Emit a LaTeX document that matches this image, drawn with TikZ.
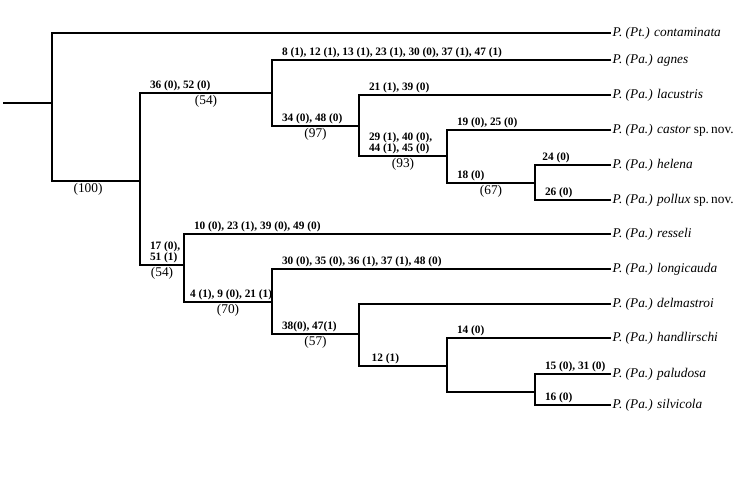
\documentclass[tikz,border=0pt]{standalone}
\usepackage{fontspec}
\setmainfont{Liberation Serif}
\usepackage{tikz}
\usetikzlibrary{positioning,calc}
\tikzset{
  branch/.style={line width=1pt},
  taxon/.style={anchor=west,inner sep=1pt,font=\fontsize{10}{12}\selectfont\itshape},
  chr/.style={anchor=south west,inner xsep=0pt,inner ysep=1pt,xshift=7,font=\fontsize{8.5}{8.5}\selectfont\bfseries,align=left},
  supp/.style={pos=0.75,below,inner sep=1.5pt,font=\fontsize{10}{12}\selectfont}
}

\begin{document}
\begin{tikzpicture}[x=0.75pt,y=-0.75pt]
  \useasboundingbox (0,0) rectangle (756,489);
  % internal nodes
  \coordinate (root) at (3,103);
  \coordinate (n1) at (52,103);
  \coordinate (n2) at (140,181);
  \coordinate (n3) at (272,93);
  \coordinate (n4) at (359,126);
  \coordinate (n5) at (447,156);
  \coordinate (n6) at (535,183);
  \coordinate (n7) at (184,265);
  \coordinate (n8) at (272,302);
  \coordinate (n9) at (359,334);
  \coordinate (n10) at (447,366);
  \coordinate (n11) at (535,392);
  % taxa
  \node[taxon] (contam) at (611,33) {P. (Pt.) contaminata};
  \node[taxon] (agnes) at (611,60) {P. (Pa.) agnes};
  \node[taxon] (lacus) at (611,95) {P. (Pa.) lacustris};
  \node[taxon] (castor) at (611,130) {P. (Pa.) castor \upshape sp.\,nov.};
  \node[taxon] (helena) at (611,165) {P. (Pa.) helena};
  \node[taxon] (pollux) at (611,200) {P. (Pa.) pollux \upshape sp.\,nov.};
  \node[taxon] (ressel) at (611,234) {P. (Pa.) resseli};
  \node[taxon] (longi) at (611,269) {P. (Pa.) longicauda};
  \node[taxon] (delma) at (611,304) {P. (Pa.) delmastroi};
  \node[taxon] (handl) at (611,338) {P. (Pa.) handlirschi};
  \node[taxon] (palud) at (611,374) {P. (Pa.) paludosa};
  \node[taxon] (silvi) at (611,405) {P. (Pa.) silvicola};

  \draw[branch] (root) -- (n1);
  \draw[branch] (n1) |- (contam.west);
  \draw[branch] (n1) |- node[supp,xshift=-6]{(100)} (n2);
  \draw[branch] (n2) |- node[chr]{36 (0), 52 (0)} node[supp]{(54)} (n3);
  \draw[branch] (n3) |- node[chr]{8 (1), 12 (1), 13 (1), 23 (1), 30 (0), 37 (1), 47 (1)} (agnes.west);
  \draw[branch] (n3) |- node[chr]{34 (0), 48 (0)} node[supp]{(97)} (n4);
  \draw[branch] (n4) |- node[chr]{21 (1), 39 (0)} (lacus.west);
  \draw[branch] (n4) |- node[chr]{29 (1), 40 (0),\\44 (1), 45 (0)} node[supp]{(93)} (n5);
  \draw[branch] (n5) |- node[chr]{19 (0), 25 (0)} (castor.west);
  \draw[branch] (n5) |- node[chr]{18 (0)} node[supp]{(67)} (n6);
  \draw[branch] (n6) |- node[chr,xshift=-2]{24 (0)} (helena.west);
  \draw[branch] (n6) |- node[chr]{26 (0)} (pollux.west);
  \draw[branch] (n2) |- node[chr]{17 (0),\\51 (1)} node[supp]{(54)} (n7);
  \draw[branch] (n7) |- node[chr]{10 (0), 23 (1), 39 (0), 49 (0)} (ressel.west);
  \draw[branch] (n7) |- node[chr,xshift=-3]{4 (1), 9 (0), 21 (1)} node[supp]{(70)} (n8);
  \draw[branch] (n8) |- node[chr]{30 (0), 35 (0), 36 (1), 37 (1), 48 (0)} (longi.west);
  \draw[branch] (n8) |- node[chr]{38(0), 47(1)} node[supp]{(57)} (n9);
  \draw[branch] (n9) |- (delma.west);
  \draw[branch] (n9) |- node[chr,xshift=2]{12 (1)} (n10);
  \draw[branch] (n10) |- node[chr]{14 (0)} (handl.west);
  \draw[branch] (n10) |- (n11);
  \draw[branch] (n11) |- node[chr]{15 (0), 31 (0)} (palud.west);
  \draw[branch] (n11) |- node[chr]{16 (0)} (silvi.west);
\end{tikzpicture}
\end{document}
